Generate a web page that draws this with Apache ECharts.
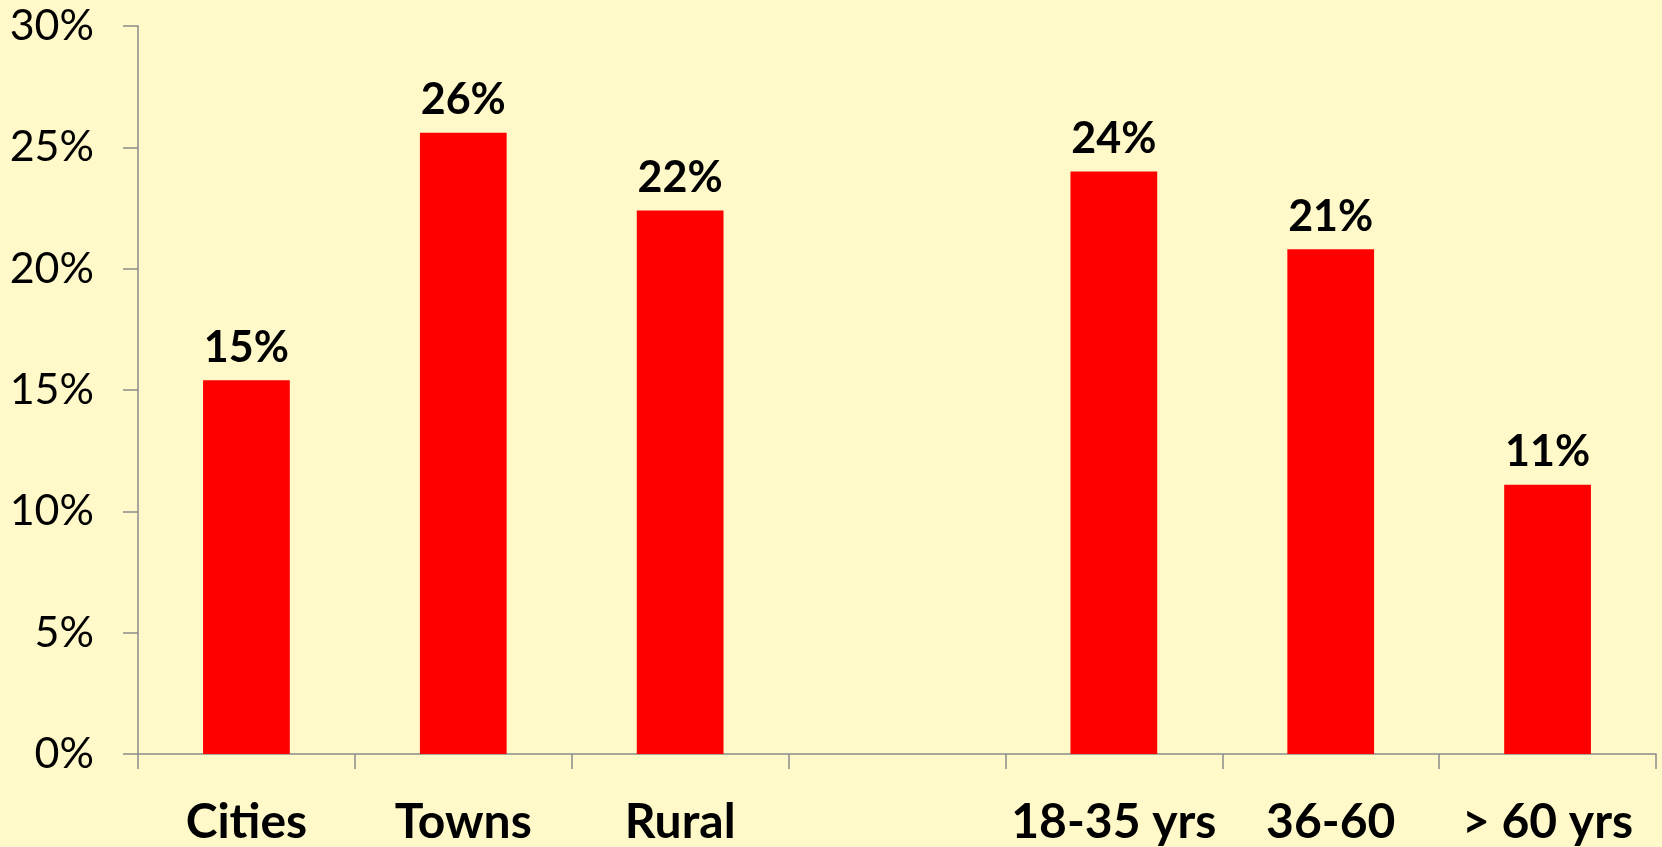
<!DOCTYPE html>
<html>
<head>
<meta charset="utf-8">
<script src="https://cdn.jsdelivr.net/npm/echarts@6/dist/echarts.min.js"></script>
<style>
html,body{margin:0;padding:0;background:#FFF9C9;}
#chart{width:1662px;height:847px;}
</style>
</head>
<body>
<div id="chart"></div>
<script>
const categories = ['Cities', 'Towns', 'Rural', '', '18-35 yrs', '36-60', '> 60 yrs'];
const shares = [15.4, 25.6, 22.4, null, 24.0, 20.8, 11.1];
const yTicks = [0, 5, 10, 15, 20, 25, 30];

const chart = echarts.init(document.getElementById('chart'), null, {renderer: 'canvas'});
chart.setOption({
  backgroundColor: '#FFF9C9',
  animation: false,
  grid: {left: 138, right: 6, top: 26, bottom: 93, containLabel: false},
  xAxis: {
    type: 'category',
    data: categories,
    axisLine: {lineStyle: {color: '#8a8a8a', width: 1.5}},
    axisTick: {show: true, length: 15, lineStyle: {color: '#8a8a8a', width: 1.5}},
    axisLabel: {
      color: '#000', fontFamily: 'Lato', fontWeight: 'bold', fontSize: 48,
      margin: 45, interval: 0
    }
  },
  yAxis: {
    type: 'value',
    min: yTicks[0], max: yTicks[yTicks.length - 1], interval: 5,
    splitLine: {show: false},
    axisLine: {show: true, lineStyle: {color: '#8a8a8a', width: 1.5}},
    axisTick: {show: true, length: 15, lineStyle: {color: '#8a8a8a', width: 1.5}},
    axisLabel: {
      color: '#000', fontFamily: 'Lato', fontSize: 43, margin: 44,
      formatter: v => v + '%'
    }
  },
  series: [{
    type: 'bar',
    data: shares,
    barWidth: '40%',
    itemStyle: {color: '#FF0000'},
    label: {
      show: true, position: 'top', distance: 11,
      color: '#000', fontFamily: 'Lato', fontWeight: 'bold', fontSize: 43,
      formatter: p => Math.round(p.value) + '%'
    }
  }]
});
</script>
</body>
</html>
